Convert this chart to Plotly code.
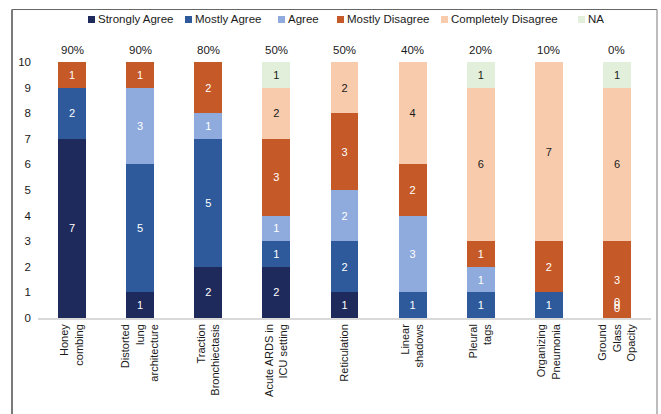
import plotly.graph_objects as go

categories = ["Honey<br>combing", "Distorted<br>lung<br>architecture", "Traction<br>Bronchiectasis",
              "Acute ARDS in<br>ICU setting", "Reticulation", "Linear<br>shadows", "Pleural<br>tags",
              "Organizing<br>Pneumonia", "Ground<br>Glass<br>Opacity"]

strongly_agree = [7, 1, 2, 2, 1, None, None, None, 0]
mostly_agree = [2, 5, 5, 1, 2, 1, 1, 1, 0]
agree = [None, 3, 1, 1, 2, 3, 1, None, 0]
mostly_disagree = [1, 1, 2, 3, 3, 2, 1, 2, 3]
completely_disagree = [None, None, None, 2, 2, 4, 6, 7, 6]
na = [None, None, None, 1, None, None, 1, None, 1]
percent_labels = ["90%", "90%", "80%", "50%", "50%", "40%", "20%", "10%", "0%"]

series = [
    ("Strongly Agree", strongly_agree, "#1F2A5C", "white"),
    ("Mostly Agree", mostly_agree, "#2E5A9C", "white"),
    ("Agree", agree, "#8FAADC", "white"),
    ("Mostly Disagree", mostly_disagree, "#C55A28", "white"),
    ("Completely Disagree", completely_disagree, "#F8CBAD", "#1a1a1a"),
    ("NA", na, "#E2EFDA", "#1a1a1a"),
]

W, H = 661, 414
ML, MR, MT, MB = 38, 10, 62, 96
PW, PH = W - ML - MR, H - MT - MB


def px_x(px):
    return (px - ML) / PW


def px_y(py):
    return (H - MB - py) / PH


FONT = "Liberation Sans, Arial, sans-serif"
fig = go.Figure()
for name, vals, color, tcolor in series:
    fig.add_trace(go.Bar(
        name=name, x=categories, y=vals, marker=dict(color=color, line=dict(width=0)),
        text=[("" if v is None else str(v)) for v in vals],
        textposition="inside", insidetextanchor="middle", textangle=0,
        constraintext="none",
        textfont=dict(color=tcolor, size=11, family=FONT),
        showlegend=False,
    ))

# zero-value labels (drawn at the base of the bar)
for si, (name, vals, color, tcolor) in enumerate(series):
    for ci, v in enumerate(vals):
        if v == 0:
            fig.add_annotation(x=categories[ci], y=0, text="0", showarrow=False,
                               yanchor="bottom", yshift=2 + 3 * si,
                               font=dict(color="white", size=11, family=FONT))

totals = [sum(v or 0 for v in col) for col in zip(*[s[1] for s in series])]
for ci, lab in enumerate(percent_labels):
    fig.add_annotation(x=categories[ci], y=totals[ci], text=lab, showarrow=False,
                       yanchor="bottom", yshift=4,
                       font=dict(color="#1a1a1a", size=11.5, family=FONT))

# legend (manual, compact like the original)
legend_x = [88, 185, 278, 337, 441, 578]
legend_y = 19
for (name, vals, color, tcolor), lx in zip(series, legend_x):
    fig.add_shape(type="rect", xref="paper", yref="paper",
                  x0=px_x(lx), x1=px_x(lx + 7), y0=px_y(legend_y + 4), y1=px_y(legend_y - 3),
                  line=dict(width=0), fillcolor=color)
    fig.add_annotation(xref="paper", yref="paper", x=px_x(lx + 8), y=px_y(legend_y),
                       xanchor="left", yanchor="middle", text=name, showarrow=False,
                       font=dict(color="#1a1a1a", size=11.5, family=FONT))

# outer frame
fig.add_shape(type="line", xref="paper", yref="paper", x0=px_x(12), x1=px_x(12),
              y0=px_y(420), y1=px_y(9.5), line=dict(color="#333333", width=1.3))
fig.add_shape(type="line", xref="paper", yref="paper", x0=px_x(12), x1=px_x(657),
              y0=px_y(9.5), y1=px_y(9.5), line=dict(color="#666666", width=1))
fig.add_shape(type="line", xref="paper", yref="paper", x0=px_x(657), x1=px_x(657),
              y0=px_y(420), y1=px_y(9.5), line=dict(color="#999999", width=1.3))

fig.update_layout(
    barmode="stack", bargap=0.59,
    width=W, height=H,
    margin=dict(l=ML, r=MR, t=MT, b=MB, autoexpand=False),
    paper_bgcolor="white", plot_bgcolor="white",
    font=dict(family=FONT, size=11, color="#1a1a1a"),
    showlegend=False,
    xaxis=dict(tickangle=-90, showline=True, linecolor="#D9D9D9", linewidth=1.5,
               ticks="", showgrid=False, tickfont=dict(size=11, family=FONT)),
    yaxis=dict(range=[0, 10], dtick=1, showgrid=False, zeroline=False, showline=False,
               ticks="", ticklabelstandoff=6, tickfont=dict(size=11.5, family=FONT)),
)

fig.write_html("out.html")
